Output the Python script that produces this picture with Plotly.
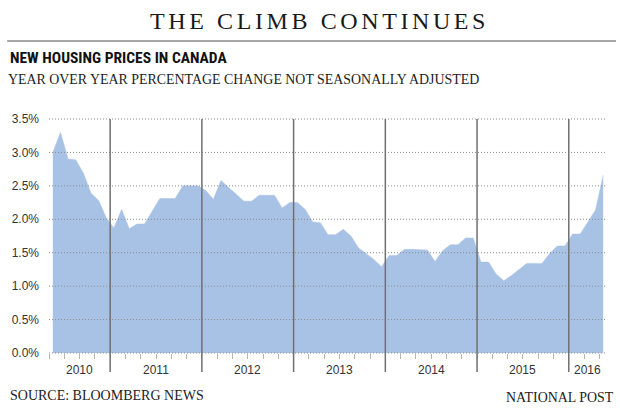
import plotly.graph_objects as go
import pandas as pd

# ---------------- data ----------------
months = [p.strftime("%Y-%m") for p in pd.period_range("2010-05", "2016-05", freq="M")]
yoy_change = [
    3.00, 3.30, 2.90, 2.89, 2.69, 2.39, 2.28, 2.02,            # 2010 May-Dec
    1.87, 2.15, 1.86, 1.93, 1.93, 2.11, 2.31, 2.31, 2.31, 2.50, 2.50, 2.50,  # 2011
    2.43, 2.30, 2.58, 2.48, 2.37, 2.27, 2.27, 2.36, 2.36, 2.36, 2.17, 2.25,  # 2012
    2.25, 2.15, 1.96, 1.95, 1.77, 1.77, 1.85, 1.75, 1.57, 1.49, 1.40, 1.29,  # 2013
    1.46, 1.46, 1.55, 1.55, 1.55, 1.54, 1.37, 1.53, 1.62, 1.62, 1.72, 1.72,  # 2014
    1.36, 1.36, 1.18, 1.08, 1.16, 1.25, 1.34, 1.34, 1.34, 1.49, 1.60, 1.60,  # 2015
    1.78, 1.78, 1.96, 2.14, 2.66,                                            # 2016 Jan-May
]
years = ["2010", "2011", "2012", "2013", "2014", "2015", "2016"]
y_ticks = [0.0, 0.5, 1.0, 1.5, 2.0, 2.5, 3.0, 3.5]
y_tick_text = [f"{v:.1f}%" for v in y_ticks]

title_text = "THE CLIMB CONTINUES"
chart_head = "NEW HOUSING PRICES IN CANADA"
chart_sub = "YEAR OVER YEAR PERCENTAGE CHANGE NOT SEASONALLY ADJUSTED"
source_text = "SOURCE: BLOOMBERG NEWS"
credit_text = "NATIONAL POST"

# ---------------- style / layout ----------------
W, H = 620, 411
L, R, T, B = 47, 13, 119, 58
PW, PH = W - L - R, H - T - B
BLUE = "#a8c2e6"
SERIF = "Liberation Serif, Times New Roman, serif"
SANS = "Liberation Sans, Arial, sans-serif"
NARROW = "Liberation Sans Narrow, Arial Narrow, Roboto Condensed, sans-serif"
Y_MAX = y_ticks[-1]


def px_x(px):
    return (px - L) / PW


def px_y(py):
    return (H - B - py) / PH


fig = go.Figure(
    go.Scatter(
        x=months,
        y=yoy_change,
        mode="lines",
        fill="tozeroy",
        fillcolor=BLUE,
        line=dict(color=BLUE, width=0.5),
        hoverinfo="skip",
        showlegend=False,
    )
)

shapes = []
# dotted horizontal gridlines drawn above the area
for v in y_ticks:
    shapes.append(dict(
        type="line", xref="paper", yref="paper",
        x0=0, x1=1, y0=v / Y_MAX, y1=v / Y_MAX,
        line=dict(color="#8c8c8c", width=1, dash="1px,2px"),
        layer="above",
    ))

# year boundary lines (between December and January)
year_bounds = [i - 0.5 for i, m in enumerate(months) if m.endswith("-01")]
for xb in year_bounds:
    shapes.append(dict(
        type="line", xref="x", yref="paper",
        x0=xb, x1=xb, y0=px_y(372), y1=1,
        line=dict(color="#707070", width=1.5),
        layer="above",
    ))

# title rule
shapes.append(dict(
    type="line", xref="paper", yref="paper",
    x0=px_x(5), x1=px_x(616), y0=px_y(41), y1=px_y(41),
    line=dict(color="#8a8a8a", width=1.5),
))

annotations = []
# year labels centred in each year span
edges = [-0.5] + year_bounds + [len(months) - 0.5]
for k, yr in enumerate(years):
    annotations.append(dict(
        text=yr, xref="x", yref="paper",
        x=(edges[k] + edges[k + 1]) / 2, y=px_y(370),
        xanchor="center", yanchor="middle", showarrow=False,
        font=dict(family=SANS, size=12, color="#333333"),
    ))

annotations += [
    dict(text=f'<span style="letter-spacing:3.6px">{title_text}</span>',
         xref="paper", yref="paper", x=px_x(318), y=px_y(21),
         xanchor="center", yanchor="middle", showarrow=False,
         font=dict(family=SERIF, size=24, color="#1a1a1a")),
    dict(text=chart_head, xref="paper", yref="paper", x=px_x(6), y=px_y(58),
         xanchor="left", yanchor="middle", showarrow=False,
         font=dict(family=NARROW, size=15.5, color="#111111", weight="bold")),
    dict(text=chart_sub, xref="paper", yref="paper", x=px_x(4), y=px_y(80),
         xanchor="left", yanchor="middle", showarrow=False,
         font=dict(family=SERIF, size=13.9, color="#222222")),
    dict(text=source_text, xref="paper", yref="paper", x=px_x(6), y=px_y(395),
         xanchor="left", yanchor="middle", showarrow=False,
         font=dict(family=SERIF, size=14, color="#222222")),
    dict(text=credit_text, xref="paper", yref="paper", x=px_x(616), y=px_y(397),
         xanchor="right", yanchor="middle", showarrow=False,
         font=dict(family=SERIF, size=13.9, color="#222222")),
]

fig.update_layout(
    width=W, height=H, autosize=False,
    margin=dict(l=L, r=R, t=T, b=B, pad=0),
    paper_bgcolor="white", plot_bgcolor="white",
    shapes=shapes, annotations=annotations,
    xaxis=dict(
        type="category", range=[-0.5, len(months) - 0.5],
        tickson="boundaries", ticks="outside", ticklen=5, tickwidth=1,
        tickcolor="#b5b5b5", showticklabels=False,
        showgrid=False, zeroline=False, showline=False, fixedrange=True,
    ),
    yaxis=dict(
        range=[0, Y_MAX], tickvals=y_ticks, ticktext=y_tick_text,
        ticks="", ticklabelstandoff=9,
        tickfont=dict(family=SANS, size=12, color="#333333"),
        showgrid=False, zeroline=False, showline=False, fixedrange=True,
    ),
)

fig.write_html("out.html")
